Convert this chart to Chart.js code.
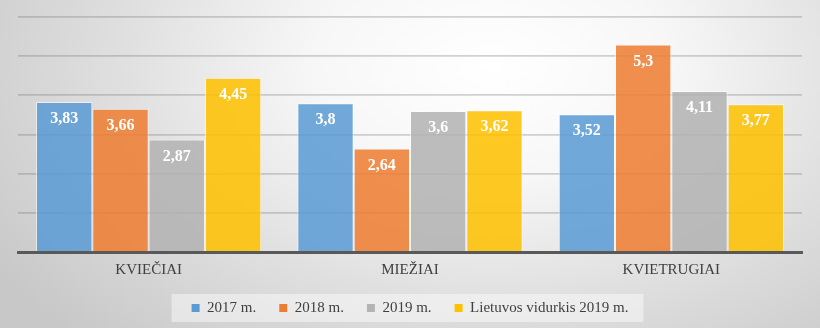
<!DOCTYPE html>
<html>
<head>
<meta charset="utf-8">
<script src="https://cdn.jsdelivr.net/npm/chart.js@4/dist/chart.umd.min.js"></script>
<style>
  html, body { margin: 0; padding: 0; }
  body {
    width: 820px; height: 328px; overflow: hidden;
    background: radial-gradient(ellipse 72% 115% at 60% 20%, #ffffff 0%, #f7f7f7 30%, #e0e0e0 62%, #c8c8c8 100%);
  }
  #wrap { position: relative; width: 820px; height: 328px; }
</style>
</head>
<body>
<div id="wrap"><canvas id="c"></canvas></div>
<script>
const categories = ['KVIEČIAI', 'MIEŽIAI', 'KVIETRUGIAI'];
const seriesNames = ['2017 m.', '2018 m.', '2019 m.', 'Lietuvos vidurkis 2019 m.'];
const values2017 = [3.83, 3.8, 3.52];
const values2018 = [3.66, 2.64, 5.3];
const values2019 = [2.87, 3.6, 4.11];
const valuesAvg2019 = [4.45, 3.62, 3.77];
const yTicks = [0, 1, 2, 3, 4, 5, 6];

const fills = ['rgba(91,155,213,0.86)', 'rgba(237,125,49,0.86)', 'rgba(178,178,178,0.86)', 'rgba(255,192,0,0.86)'];
const legendFills = ['#5b9bd5', '#ed7d31', '#b4b4b4', '#ffc000'];
const allValues = [values2017, values2018, values2019, valuesAvg2019];

const serif = "'Liberation Serif', 'Times New Roman', serif";

const labelPlugin = {
  id: 'barLabels',
  afterDatasetsDraw(chart) {
    const ctx = chart.ctx;
    ctx.save();
    ctx.fillStyle = '#ffffff';
    ctx.font = "bold 16px " + serif;
    ctx.textAlign = 'center';
    ctx.textBaseline = 'middle';
    chart.data.datasets.forEach((ds, i) => {
      const meta = chart.getDatasetMeta(i);
      meta.data.forEach((bar, j) => {
        const v = ds.data[j];
        ctx.fillText(String(v).replace('.', ','), bar.x, bar.y + 17);
      });
    });
    ctx.restore();
  }
};

const legendBgPlugin = {
  id: 'legendBg',
  beforeDraw(chart) {
    const lg = chart.legend;
    if (!lg || !lg.legendHitBoxes || !lg.legendHitBoxes.length) return;
    const hb = lg.legendHitBoxes;
    let l = Infinity, r = -Infinity, cy = 0;
    hb.forEach(b => { l = Math.min(l, b.left); r = Math.max(r, b.left + b.width); cy = b.top + b.height / 2; });
    const ctx = chart.ctx;
    ctx.save();
    ctx.fillStyle = 'rgba(255,255,255,0.45)';
    ctx.fillRect(l - 20, cy - 14, (r - l) + 35, 28);
    ctx.restore();
  }
};

new Chart(document.getElementById('c'), {
  type: 'bar',
  data: {
    labels: categories,
    datasets: allValues.map((vals, i) => ({
      label: seriesNames[i],
      data: vals,
      backgroundColor: fills[i],
      borderColor: 'rgba(255,255,255,0.55)',
      borderWidth: 1,
      categoryPercentage: 0.862,
      barPercentage: 1.0
    }))
  },
  options: {
    responsive: true,
    maintainAspectRatio: false,
    animation: false,
    layout: { padding: { left: 18, right: 18, top: 17, bottom: 2.5 } },
    scales: {
      x: {
        grid: { display: false, drawTicks: false },
        border: { display: true, color: '#595959', width: 3 },
        ticks: { color: '#404040', font: { family: serif, size: 15, lineHeight: 1 }, padding: 10.5 },
        afterFit(axis) { axis.height = 25.5; }
      },
      y: {
        min: 0, max: 6,
        afterBuildTicks(axis) { axis.ticks = yTicks.map(v => ({ value: v })); },
        ticks: { display: false },
        grid: { color: 'rgba(110,110,110,0.3)', lineWidth: 1.8, drawTicks: false },
        border: { display: false }
      }
    },
    plugins: {
      legend: {
        position: 'bottom',
        labels: {
          color: '#404040',
          font: { family: serif, size: 15 },
          boxWidth: 8, boxHeight: 8,
          padding: 23,
          generateLabels(chart) {
            return chart.data.datasets.map((ds, i) => ({
              text: ds.label, fillStyle: legendFills[i], strokeStyle: legendFills[i], lineWidth: 0,
              fontColor: '#404040', datasetIndex: i, hidden: false
            }));
          }
        }
      },
      tooltip: { enabled: false }
    }
  },
  plugins: [legendBgPlugin, labelPlugin]
});
</script>
</body>
</html>
